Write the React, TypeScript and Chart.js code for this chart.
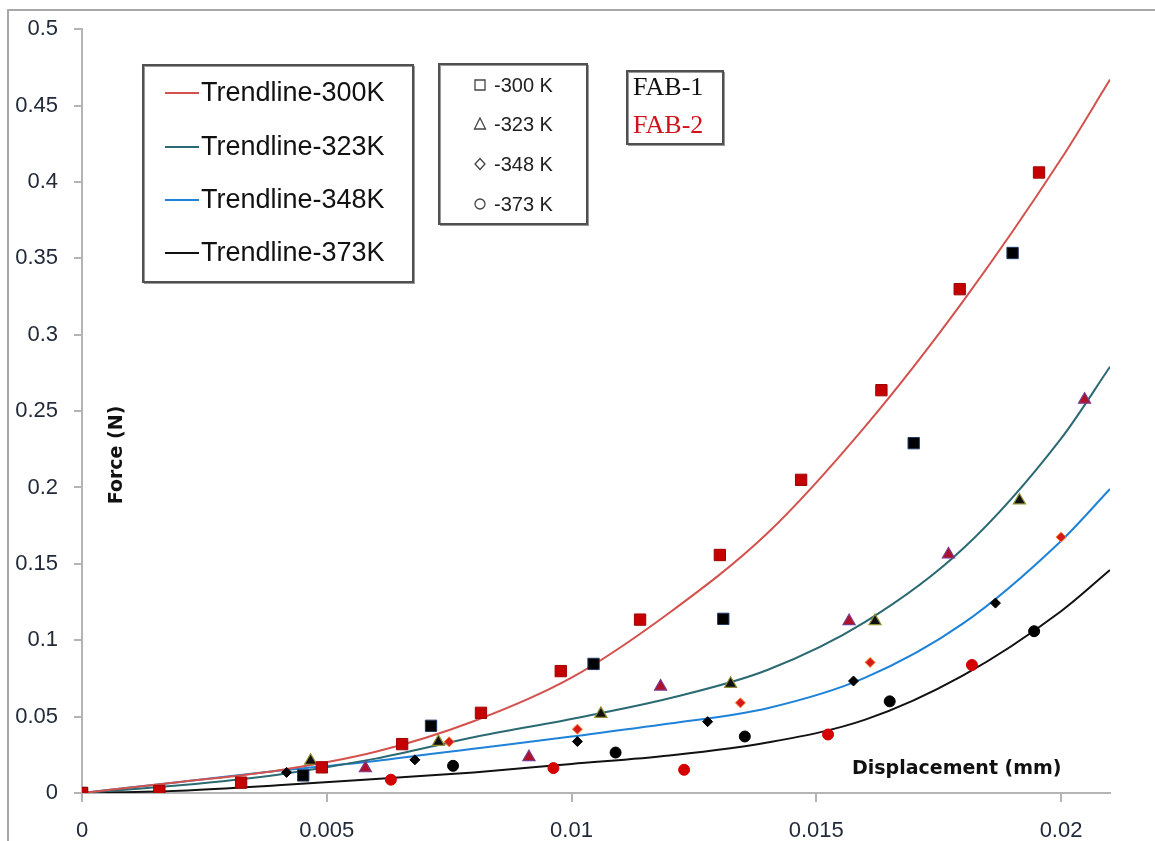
import React, { useEffect, useRef } from "react";
import { Chart, registerables } from "chart.js";

Chart.register(...registerables);

// ---------- data ----------
const xTicks = [0, 0.005, 0.01, 0.015, 0.02];
const xTickLabels = ["0", "0.005", "0.01", "0.015", "0.02"];
const yTicks = [0, 0.05, 0.1, 0.15, 0.2, 0.25, 0.3, 0.35, 0.4, 0.45, 0.5];
const yTickLabels = ["0", "0.05", "0.1", "0.15", "0.2", "0.25", "0.3", "0.35", "0.4", "0.45", "0.5"];

// FAB-1 (black markers)
const fab1Sq300 = [[0, 0], [0.00452, 0.0115], [0.00713, 0.044], [0.01045, 0.0845], [0.0131, 0.114], [0.01699, 0.229], [0.01901, 0.3535]];
const fab1Tri323 = [[0.00467, 0.0211], [0.00728, 0.0335], [0.0106, 0.0518], [0.01325, 0.0715], [0.0162, 0.1125], [0.01915, 0.1915]];
const fab1Dia348 = [[0.00418, 0.0135], [0.0068, 0.0217], [0.01012, 0.0337], [0.01278, 0.0467], [0.01576, 0.0733], [0.01866, 0.1243]];
const fab1Cir373 = [[0.00758, 0.0178], [0.0109, 0.0265], [0.01354, 0.037], [0.0165, 0.06], [0.01945, 0.1059]];

// FAB-2 (red markers)
const fab2Sq300 = [[0, 0], [0.00158, 0.0013], [0.00325, 0.0068], [0.0049, 0.0168], [0.00654, 0.032], [0.00815, 0.0525], [0.00978, 0.0798], [0.0114, 0.1135], [0.01303, 0.1558], [0.01469, 0.205], [0.01633, 0.2637], [0.01793, 0.3298], [0.01955, 0.4062]];
const fab2Tri323 = [[0.00579, 0.0162], [0.00913, 0.0235], [0.01182, 0.0697], [0.01567, 0.1125], [0.0177, 0.1562], [0.02048, 0.2575]];
const fab2Dia348 = [[0.0075, 0.0335], [0.01012, 0.0418], [0.01345, 0.059], [0.0161, 0.0855], [0.02, 0.1675]];
const fab2Cir373 = [[0.00631, 0.0087], [0.00963, 0.0163], [0.0123, 0.0152], [0.01524, 0.0383], [0.01818, 0.0838]];

// Trendlines
const trendX = [0, 0.002, 0.004, 0.006, 0.008, 0.01, 0.012, 0.014, 0.016, 0.018, 0.02, 0.021];
const trend300 = [0, 0.0072, 0.0148, 0.027, 0.047, 0.0755, 0.118, 0.17, 0.24, 0.322, 0.415, 0.467];
const trend323 = [0, 0.005, 0.012, 0.0225, 0.0365, 0.0485, 0.062, 0.0805, 0.112, 0.16, 0.232, 0.279];
const trend348 = [0, 0.0072, 0.0145, 0.021, 0.029, 0.037, 0.0455, 0.0555, 0.0755, 0.111, 0.165, 0.199];
const trend373 = [0, 0.0015, 0.005, 0.0092, 0.0135, 0.019, 0.0245, 0.033, 0.048, 0.077, 0.119, 0.146];

const trendNames = ["Trendline-300K", "Trendline-323K", "Trendline-348K", "Trendline-373K"];
const trendColors = ["#d4524e", "#2b6a72", "#1e82d8", "#111111"];
const markerNames = ["-300 K", "-323 K", "-348 K", "-373 K"];
const fabNames = ["FAB-1", "FAB-2"];
const fabColors = ["#111111", "#d0121b"];

const toPts = (arr: number[][]) => arr.map(([x, y]) => ({ x, y }));
const trendPts = (ys: number[]) => trendX.map((x, i) => ({ x, y: ys[i] }));

const overlayPlugin = {
  id: "overlay",
  afterDraw(chart: any) {
    const ctx: CanvasRenderingContext2D = chart.ctx;
    ctx.save();
    // outer frame
    ctx.strokeStyle = "#a8a8a8";
    ctx.lineWidth = 2;
    ctx.strokeRect(8, 10, 1300, 1000);

    // axis titles
    ctx.fillStyle = "#111";
    ctx.font = "bold 19px 'DejaVu Sans'";
    ctx.textBaseline = "middle";
    ctx.textAlign = "left";
    ctx.fillText("Displacement (mm)", 852, 769);
    ctx.save();
    ctx.translate(117, 455);
    ctx.rotate(-Math.PI / 2);
    ctx.textAlign = "center";
    ctx.fillText("Force (N)", 0, 0);
    ctx.restore();

    const box = (x1: number, y1: number, x2: number, y2: number) => {
      ctx.fillStyle = "#ffffff";
      ctx.fillRect(x1, y1, x2 - x1, y2 - y1);
      ctx.strokeStyle = "#9a9a9a";
      ctx.lineWidth = 1;
      ctx.strokeRect(x1 + 1.5, y1 + 1.5, x2 - x1, y2 - y1);
      ctx.strokeStyle = "#505050";
      ctx.lineWidth = 2;
      ctx.strokeRect(x1, y1, x2 - x1, y2 - y1);
    };

    // legend box 1 (trendlines)
    box(143, 65, 413, 282);
    const rows1 = [93, 147, 200, 253];
    ctx.font = "27px 'Liberation Sans'";
    ctx.textAlign = "left";
    ctx.textBaseline = "middle";
    trendNames.forEach((n, i) => {
      ctx.strokeStyle = trendColors[i];
      ctx.lineWidth = 2;
      ctx.beginPath();
      ctx.moveTo(165, rows1[i]);
      ctx.lineTo(199, rows1[i]);
      ctx.stroke();
      ctx.fillStyle = "#111";
      ctx.fillText(n, 201, rows1[i] + 1);
    });

    // legend box 2 (marker shapes)
    box(439, 64, 587, 224);
    const rows2 = [85, 124, 164, 204];
    ctx.font = "20px 'Liberation Sans'";
    ctx.strokeStyle = "#444";
    ctx.lineWidth = 1.3;
    rows2.forEach((y, i) => {
      const cx = 480;
      ctx.beginPath();
      if (i === 0) ctx.rect(cx - 5, y - 5, 10, 10);
      if (i === 1) { ctx.moveTo(cx, y - 6); ctx.lineTo(cx + 5.5, y + 5); ctx.lineTo(cx - 5.5, y + 5); ctx.closePath(); }
      if (i === 2) { ctx.moveTo(cx, y - 5.5); ctx.lineTo(cx + 5, y); ctx.lineTo(cx, y + 5.5); ctx.lineTo(cx - 5, y); ctx.closePath(); }
      if (i === 3) ctx.arc(cx, y, 5, 0, Math.PI * 2);
      ctx.stroke();
      ctx.fillStyle = "#222";
      ctx.fillText(markerNames[i], 494, y + 1);
    });

    // legend box 3 (FAB)
    box(627, 71, 723, 144);
    ctx.font = "26px 'Liberation Serif'";
    fabNames.forEach((n, i) => {
      ctx.fillStyle = fabColors[i];
      ctx.fillText(n, 633, [88, 126][i]);
    });
    ctx.restore();
  },
};

export default function App() {
  const ref = useRef<HTMLCanvasElement | null>(null);
  useEffect(() => {
    document.body.style.margin = "0";
    const canvas = ref.current!;
    const markerDs = (label: string, pts: number[][], style: string, r: number, fill: string, border: string, bw: number) => ({
      label,
      data: toPts(pts),
      pointStyle: style,
      pointRadius: r,
      pointBackgroundColor: fill,
      pointBorderColor: border,
      pointBorderWidth: bw,
      backgroundColor: fill,
      borderColor: border,
      showLine: false,
    });
    const trendDs = (label: string, ys: number[], color: string) => ({
      label,
      data: trendPts(ys),
      showLine: true,
      borderColor: color,
      backgroundColor: color,
      borderWidth: 2,
      pointRadius: 0,
      cubicInterpolationMode: "monotone",
      fill: false,
    });
    const chart = new Chart(canvas, {
      type: "scatter",
      data: {
        datasets: [
          markerDs("FAB-2 300K", fab2Sq300, "rect", 8, "#c40000", "#a00000", 1),
          markerDs("FAB-1 300K", fab1Sq300, "rect", 8, "#000000", "#1f3864", 1),
          markerDs("FAB-2 323K", fab2Tri323, "triangle", 7, "#b0102a", "#7a3a8a", 1.2),
          markerDs("FAB-1 323K", fab1Tri323, "triangle", 7, "#111111", "#8f8f34", 1.2),
          markerDs("FAB-2 348K", fab2Dia348, "rectRot", 5, "#d41a1a", "#ff7f27", 1),
          markerDs("FAB-1 348K", fab1Dia348, "rectRot", 5, "#000000", "#000000", 1),
          markerDs("FAB-2 373K", fab2Cir373, "circle", 5.5, "#d40000", "#d40000", 1),
          markerDs("FAB-1 373K", fab1Cir373, "circle", 5.5, "#000000", "#000000", 1),
          trendDs(trendNames[0], trend300, trendColors[0]),
          trendDs(trendNames[1], trend323, trendColors[1]),
          trendDs(trendNames[2], trend348, trendColors[2]),
          trendDs(trendNames[3], trend373, trendColors[3]),
        ] as any,
      },
      options: {
        animation: false,
        responsive: false,
        devicePixelRatio: 1,
        layout: { padding: { top: 25, right: 45, left: 0, bottom: 0 } },
        plugins: { legend: { display: false }, tooltip: { enabled: false }, title: { display: false } },
        scales: {
          x: {
            type: "linear",
            min: 0,
            max: 0.021,
            afterBuildTicks: (s: any) => { s.ticks = xTicks.map((v) => ({ value: v })); },
            afterFit: (s: any) => { s.height = 48; },
            ticks: {
              callback: (_v: any, i: number) => xTickLabels[i],
              font: { family: "'Liberation Sans'", size: 22 },
              color: "#222a3a",
              padding: 16,
              maxRotation: 0,
              autoSkip: false,
            },
            grid: { drawOnChartArea: false, drawTicks: true, tickLength: 9, color: "#b4b4b4", lineWidth: 2 },
            border: { color: "#b4b4b4", width: 2 },
          },
          y: {
            type: "linear",
            min: 0,
            max: 0.5,
            afterBuildTicks: (s: any) => { s.ticks = yTicks.map((v) => ({ value: v })); },
            afterFit: (s: any) => { s.width = 82; },
            ticks: {
              callback: (_v: any, i: number) => yTickLabels[i],
              font: { family: "'Liberation Sans'", size: 22 },
              color: "#222a3a",
              padding: 16,
              autoSkip: false,
            },
            grid: { drawOnChartArea: false, drawTicks: true, tickLength: 8, color: "#b4b4b4", lineWidth: 2 },
            border: { color: "#b4b4b4", width: 2 },
          },
        },
      },
      plugins: [overlayPlugin],
    });
    return () => chart.destroy();
  }, []);
  return (
    <div style={{ position: "fixed", left: 0, top: 0, width: 1155, height: 841, background: "#fff", overflow: "hidden" }}>
      <canvas ref={ref} width={1155} height={841} style={{ width: 1155, height: 841, display: "block" }} />
    </div>
  );
}
